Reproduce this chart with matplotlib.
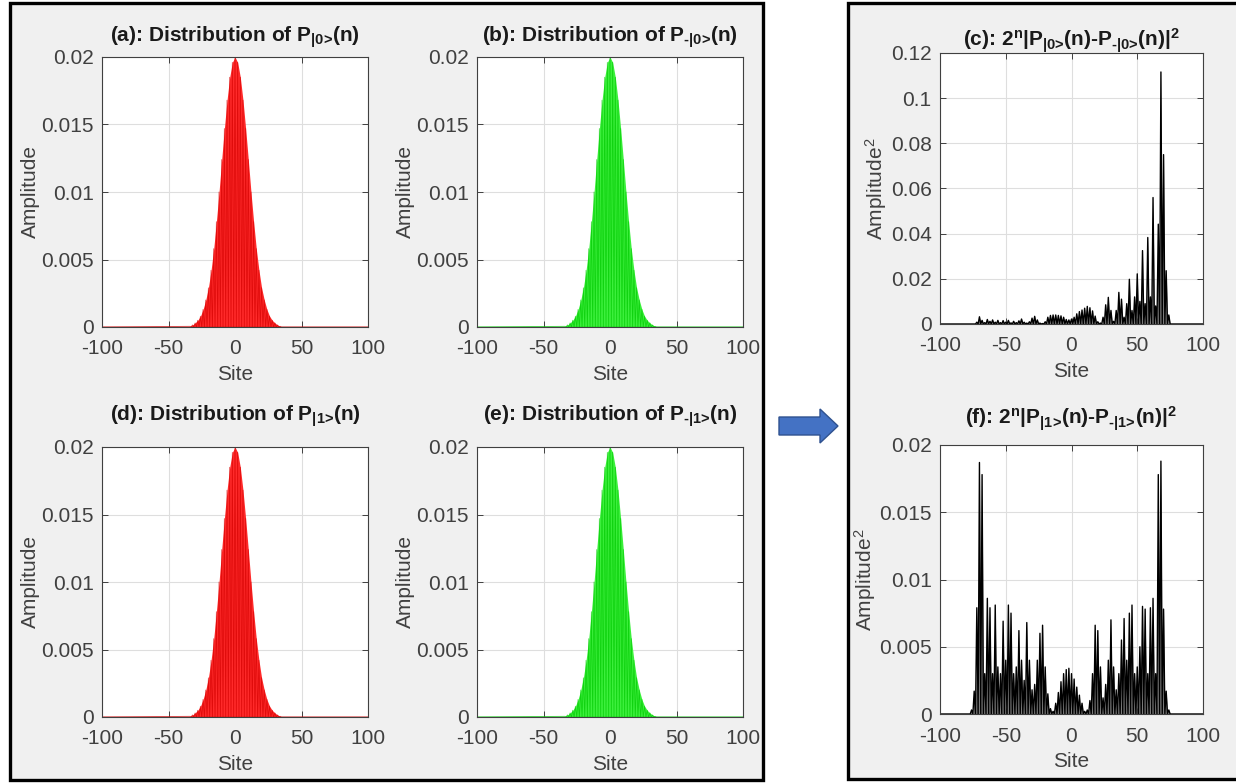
import numpy as np
import matplotlib
matplotlib.use("Agg")
import matplotlib.pyplot as plt
from matplotlib.patches import Rectangle, Polygon

plt.rcParams['font.family'] = ['Liberation Sans', 'DejaVu Sans']
plt.rcParams['mathtext.default'] = 'regular'
plt.rcParams['mathtext.fontset'] = 'custom'
plt.rcParams['mathtext.rm'] = 'Liberation Sans:bold'

# ---- data ----
# distributions (a), (b), (d), (e): envelope at even sites, odd sites are zero
dist_sites = np.arange(-34, 35, 2)
p_plus0 = [0.00005, 0.00015, 0.0003, 0.0005, 0.0008, 0.0013, 0.0020, 0.0029, 0.0042,
           0.0058, 0.0078, 0.0100, 0.0124, 0.0147, 0.0168, 0.0185, 0.0196,
           0.0200,
           0.0196, 0.0185, 0.0168, 0.0147, 0.0124, 0.0100, 0.0078, 0.0058,
           0.0042, 0.0029, 0.0020, 0.0013, 0.0008, 0.0005, 0.0003, 0.00015, 0.00005]
p_minus0 = list(p_plus0)
p_plus1 = list(p_plus0)
p_minus1 = list(p_plus0)

# (c): 2^n |P_|0> - P_-|0>|^2 at even sites
diff0_sites = np.arange(-76, 77, 2)
diff0 = [0.0, 0.0, 0.0008, 0.0032, 0.0016, 0.0006, 0.0020, 0.0012, 0.0018, 0.0008,
         0.0016, 0.0006, 0.0015, 0.0008, 0.0016, 0.0005, 0.0012, 0.0006, 0.0014, 0.0022,
         0.0008, 0.0004, 0.0010, 0.0026, 0.0034, 0.0018, 0.0004, 0.0002, 0.0010, 0.0030,
         0.0038, 0.0040, 0.0040, 0.0038, 0.0036, 0.0030, 0.0020, 0.0018,
         0.0022,
         0.0030, 0.0045, 0.0055, 0.0062, 0.0070, 0.0078, 0.0072, 0.0058, 0.0035, 0.0010,
         0.0004, 0.0030, 0.0085, 0.0118, 0.0060, 0.0012, 0.0060, 0.0140, 0.0110, 0.0030,
         0.0090, 0.0198, 0.0060, 0.0120, 0.0222, 0.0100, 0.0325, 0.0090, 0.0383, 0.0120,
         0.0560, 0.0080, 0.0442, 0.1116, 0.0750, 0.0236, 0.0040, 0.0]

# (f): 2^n |P_|1> - P_-|1>|^2 at even sites
diff1_sites = np.arange(-78, 79, 2)
diff1 = [0.0, 0.0003, 0.0017, 0.0079, 0.0187, 0.0178, 0.0030, 0.0086, 0.0079, 0.0030,
         0.0081, 0.0035, 0.0030, 0.0069, 0.0040, 0.0081, 0.0075, 0.0030, 0.0035, 0.0062,
         0.0040, 0.0025, 0.0068, 0.0040, 0.0018, 0.0022, 0.0040, 0.0060, 0.0066, 0.0035,
         0.0015, 0.0004, 0.0002, 0.0008, 0.0016, 0.0024, 0.0030, 0.0033, 0.0034,
         0.0030,
         0.0026, 0.0020, 0.0014, 0.0008, 0.0002, 0.0003, 0.0010, 0.0030, 0.0066, 0.0062,
         0.0035, 0.0012, 0.0022, 0.0040, 0.0070, 0.0035, 0.0018, 0.0030, 0.0055, 0.0071,
         0.0040, 0.0075, 0.0081, 0.0030, 0.0035, 0.0050, 0.0080, 0.0078, 0.0030, 0.0079,
         0.0086, 0.0030, 0.0178, 0.0188, 0.0078, 0.0017, 0.0003, 0.0, 0.0]

x_ticks = [-100, -50, 0, 50, 100]
x_labels = ['-100', '-50', '0', '50', '100']
y_ticks_p = [0, 0.005, 0.01, 0.015, 0.02]
y_labels_p = ['0', '0.005', '0.01', '0.015', '0.02']
y_ticks_c = [0, 0.02, 0.04, 0.06, 0.08, 0.1, 0.12]
y_labels_c = ['0', '0.02', '0.04', '0.06', '0.08', '0.1', '0.12']


def zigzag(sites, vals):
    # even site -> value, following odd site -> 0, flat zero out to +-100
    sites = np.asarray(sites)
    vals = np.asarray(vals, dtype=float)
    xs = np.column_stack([sites, sites + 1]).ravel()
    ys = np.column_stack([vals, np.zeros_like(vals)]).ravel()
    xs = np.concatenate([[-100], xs, [100]])
    ys = np.concatenate([[0], ys, [0]])
    return xs, ys


W, H = 1236, 784
fig = plt.figure(figsize=(W / 100, H / 100), dpi=100)
fig.patch.set_facecolor('white')

# background panels and arrow, drawn in pixel coordinates
bg = fig.add_axes([0, 0, 1, 1])
bg.set_xlim(0, W)
bg.set_ylim(H, 0)
bg.axis('off')
bg.add_patch(Rectangle((10, 3), 753, 777, facecolor='#f0f0f0', edgecolor='black', lw=2.4))
bg.add_patch(Rectangle((848, 3), 400, 776, facecolor='#f0f0f0', edgecolor='black', lw=2.4))
bg.add_patch(Polygon([(779, 417), (820, 417), (820, 409), (838, 426), (820, 443), (820, 435), (779, 435)],
                     closed=True, facecolor='#4472c4', edgecolor='#2f528f', lw=1))


def make_axes(px, py, pw, ph):
    return fig.add_axes([px / W, 1 - (py + ph) / H, pw / W, ph / H])


def style(ax, yticks, ylabels, ylim, title, ylabel, tpad):
    ax.set_xlim(-100, 100)
    ax.set_ylim(*ylim)
    ax.set_xticks(x_ticks)
    ax.set_xticklabels(x_labels)
    ax.set_yticks(yticks)
    ax.set_yticklabels(ylabels)
    ax.grid(True, color='#dedede', lw=0.8)
    ax.set_axisbelow(True)
    ax.tick_params(direction='in', top=True, right=True, length=4, width=0.7,
                   labelsize=15, colors='#404040')
    ax.tick_params(axis='x', pad=9)
    ax.tick_params(axis='y', pad=6)
    for s in ax.spines.values():
        s.set_color('#404040')
        s.set_linewidth(0.8)
    ax.set_title(title, fontsize=15, fontweight='bold', color='#1a1a1a', pad=tpad)
    ax.set_xlabel('Site', fontsize=15, color='#404040', labelpad=5)
    ax.set_ylabel(ylabel, fontsize=15, color='#404040', labelpad=1)


panels = [
    (102, 57, p_plus0, '#ff2a2a', '#d40000', r'(a): Distribution of P$_{\text{|0>}}$(n)', 11),
    (477, 57, p_minus0, '#3cf03c', '#00c800', r'(b): Distribution of P$_{\text{-|0>}}$(n)', 11),
    (102, 447, p_plus1, '#ff2a2a', '#d40000', r'(d): Distribution of P$_{\text{|1>}}$(n)', 19),
    (477, 447, p_minus1, '#3cf03c', '#00c800', r'(e): Distribution of P$_{\text{-|1>}}$(n)', 19),
]
for px, py, vals, fcol, lcol, title, tpad in panels:
    ax = make_axes(px, py, 266, 270)
    ax.fill_between(dist_sites, vals, color=fcol, lw=0)
    xs, ys = zigzag(dist_sites, vals)
    ax.plot(xs, ys, color=lcol, lw=0.6, alpha=0.7)
    ax.plot([-100, 100], [0, 0], color=lcol, lw=1)
    style(ax, y_ticks_p, y_labels_p, (0, 0.02), title, 'Amplitude', tpad)

ax = make_axes(940, 53, 263, 271)
xs, ys = zigzag(diff0_sites, diff0)
ax.fill_between(xs, ys, color='#444444', alpha=0.7, lw=0)
ax.plot(xs, ys, color='black', lw=1.0)
style(ax, y_ticks_c, y_labels_c, (0, 0.12),
      r'(c): 2$^{n}$|P$_{\text{|0>}}$(n)-P$_{\text{-|0>}}$(n)|$^{2}$', r'Amplitude$^{2}$', 5)

ax = make_axes(940, 445, 263, 269)
xs, ys = zigzag(diff1_sites, diff1)
ax.fill_between(xs, ys, color='#444444', alpha=0.7, lw=0)
ax.plot(xs, ys, color='black', lw=1.0)
style(ax, y_ticks_p, y_labels_p, (0, 0.02),
      r'(f): 2$^{n}$|P$_{\text{|1>}}$(n)-P$_{\text{-|1>}}$(n)|$^{2}$', r'Amplitude$^{2}$', 15)

fig.savefig('out.png', dpi=100)
